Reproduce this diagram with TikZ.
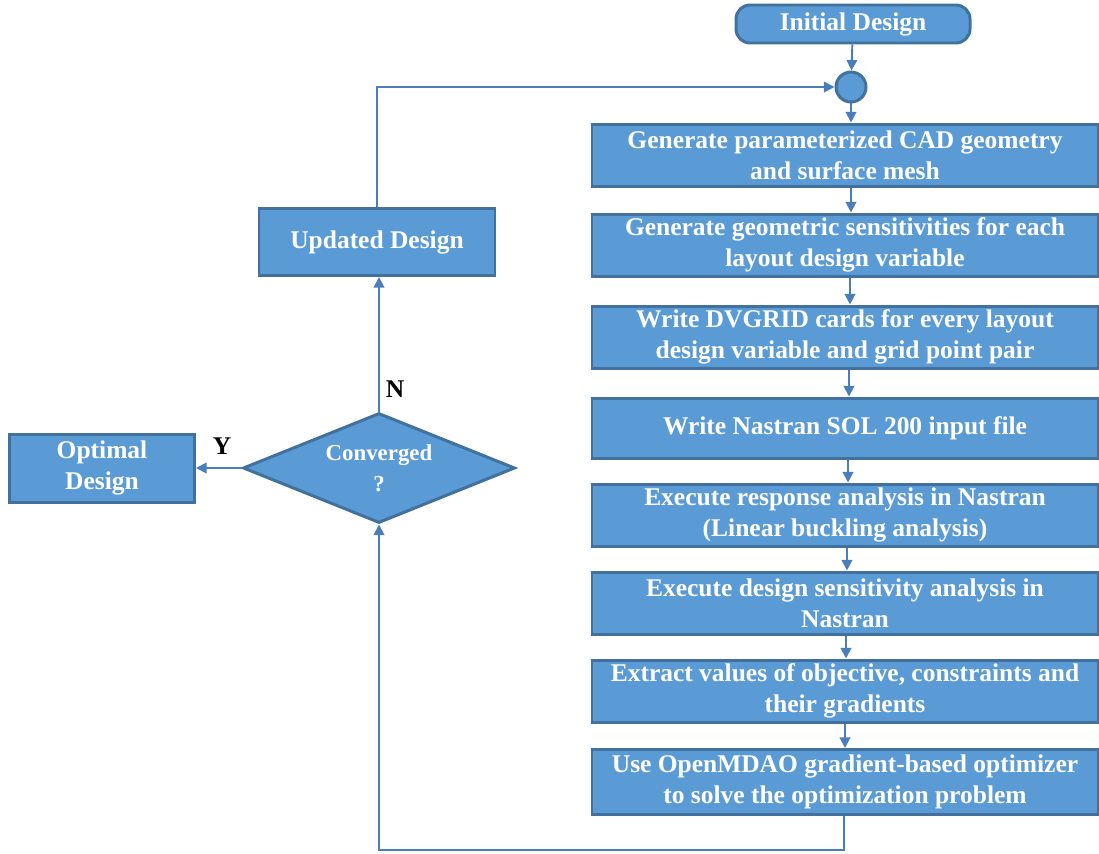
\documentclass[tikz,border=0pt]{standalone}
\usepackage{fontspec}
\setmainfont{Liberation Serif}
\usetikzlibrary{arrows.meta,shapes.geometric}
\definecolor{boxfill}{HTML}{5B9BD5}
\definecolor{boxedge}{HTML}{41719C}
\definecolor{linec}{HTML}{4A7EBB}
\tikzset{
  stepbox/.style={draw=boxedge, line width=1.7pt, fill=boxfill, text=white, font=\bfseries\fontsize{14.5}{17.6}\selectfont, align=center, minimum width=506*0.02cm, minimum height=62*0.02cm, inner sep=0pt},
  sidebox/.style={draw=boxedge, line width=1.7pt, fill=boxfill, text=white, font=\bfseries\fontsize{14.5}{17.6}\selectfont, align=center, inner sep=0pt},
  conn/.style={draw=linec, line width=1.1pt, -{Triangle[length=6pt,width=6pt]}},
  lbl/.style={font=\bfseries\fontsize{14.5}{17.6}\selectfont, text=black}
}
\begin{document}
\begin{tikzpicture}[x=0.02cm,y=-0.02cm]
\useasboundingbox (0,0) rectangle (1099,853);
\node[sidebox, rounded corners=8pt, minimum width=234*0.02cm, minimum height=38*0.02cm] (init) at (853,24) {Initial Design};
\node[circle, draw=boxedge, line width=1.7pt, fill=boxfill, minimum size=30*0.02cm, inner sep=0pt] (merge) at (851,87) {};
\node[stepbox] (b1) at (845,155) {Generate parameterized CAD geometry\\and surface mesh};
\node[stepbox] (b2) at (845,245) {Generate geometric sensitivities for each\\layout design variable};
\node[stepbox] (b3) at (845,337) {Write DVGRID cards for every layout\\design variable and grid point pair};
\node[stepbox, minimum height=60*0.02cm] (b4) at (845,428) {Write Nastran SOL 200 input file};
\node[stepbox] (b5) at (845,515) {Execute response analysis in Nastran\\(Linear buckling analysis)};
\node[stepbox] (b6) at (845,603) {Execute design sensitivity analysis in\\Nastran};
\node[stepbox] (b7) at (845,691) {Extract values of objective, constraints and\\their gradients};
\node[stepbox, minimum height=65*0.02cm] (b8) at (845,782) {Use OpenMDAO gradient-based optimizer\\to solve the optimization problem};
\node[sidebox, minimum width=236*0.02cm, minimum height=67*0.02cm] (upd) at (377,242) {Updated Design};
\node[diamond, draw=boxedge, line width=1.7pt, fill=boxfill, text=white, font=\bfseries\fontsize{13}{17.6}\selectfont, align=center, minimum width=272*0.02cm, minimum height=110*0.02cm, inner sep=0pt, aspect=2.47] (conv) at (379,468) {Converged\\?};
\node[sidebox, minimum width=185*0.02cm, minimum height=68*0.02cm] (opt) at (102,468) {Optimal\\Design};
\node[lbl] (nl) at (395,389) {N};
\node[lbl] (yl) at (222,446) {Y};
\coordinate (bl) at (844,850);
\coordinate (bl2) at (379,850);
\coordinate (tl) at (377,87);
\draw[conn] (init) -- (merge);
\draw[conn] (merge) -- (b1.north -| merge);
\draw[conn] (b1.south -| 851,0) -- (b2.north -| 851,0);
\draw[conn] (b2.south -| 850,0) -- (b3.north -| 850,0);
\draw[conn] (b3.south -| 849,0) -- (b4.north -| 849,0);
\draw[conn] (b4.south -| 848,0) -- (b5.north -| 848,0);
\draw[conn] (b5.south -| 847,0) -- (b6.north -| 847,0);
\draw[conn] (b6.south -| 846,0) -- (b7.north -| 846,0);
\draw[conn] (b7.south -| 845,0) -- (b8.north -| 845,0);
\draw[conn] (b8.south -| bl) -- (bl) -- (bl2) -- (conv.south);
\draw[conn] (conv.north) -- (upd.south -| conv.north);
\draw[conn] (upd.north) -- (tl) -- (merge.west);
\draw[conn] (conv.west) -- (opt.east);
\end{tikzpicture}
\end{document}
